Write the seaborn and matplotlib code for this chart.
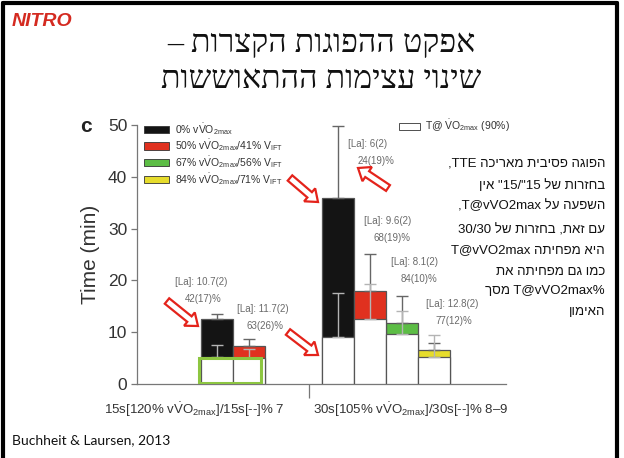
import matplotlib
matplotlib.use("Agg")
import matplotlib.pyplot as plt
import seaborn as sns
import pandas as pd
from matplotlib.patches import Rectangle, FancyArrow, Patch
from matplotlib.lines import Line2D
from matplotlib.transforms import IdentityTransform

sns.set_theme(style="ticks")
plt.rcParams["font.family"] = ["Liberation Sans", "DejaVu Sans"]
plt.rcParams["mathtext.fontset"] = "custom"
plt.rcParams["mathtext.rm"] = "Liberation Sans"
plt.rcParams["mathtext.it"] = "Liberation Sans:italic"
plt.rcParams["mathtext.bf"] = "Liberation Sans:bold"

# ---------------------------------------------------------------- data
intensities = ["0%", "50%", "67%", "84%"]
intensity_colors = ["#141414", "#e0311f", "#5cbd45", "#e6dc2c"]
legend_labels = [
    r"0% v$\dot{\mathrm{V}}$O$_{\mathrm{2max}}$",
    r"50% v$\dot{\mathrm{V}}$O$_{\mathrm{2max}}$/41% V$_{\mathrm{IFT}}$",
    r"67% v$\dot{\mathrm{V}}$O$_{\mathrm{2max}}$/56% V$_{\mathrm{IFT}}$",
    r"84% v$\dot{\mathrm{V}}$O$_{\mathrm{2max}}$/71% V$_{\mathrm{IFT}}$",
]
tvo2_label = r"T@ $\dot{\mathrm{V}}$O$_{\mathrm{2max}}$ (90%)"

bar_pos = [2.5, 3.5, 6.25, 7.25, 8.25, 9.25]
bar_intensity = ["0%", "50%", "0%", "50%", "67%", "84%"]
tte = [12.5, 7.4, 35.9, 18.0, 11.8, 6.6]          # time to exhaustion (min)
tte_sd = [1.1, 1.3, 14.0, 7.0, 5.2, 1.3]
t_vo2 = [5.2, 5.0, 9.0, 12.5, 9.7, 5.2]           # time at VO2max (min)
t_vo2_sd = [2.3, 1.7, 8.5, 6.9, 4.4, 4.3]
lactate = ["10.7(2)", "11.7(2)", "6(2)", "9.6(2)", "8.1(2)", "12.8(2)"]
pct_time = ["42(17)%", "63(26)%", "24(19)%", "68(19)%", "84(10)%", "77(12)%"]

protocol_labels = [
    r"15s[120% v$\dot{\mathrm{V}}$O$_{\mathrm{2max}}$]/15s[--]% 7",
    r"30s[105% v$\dot{\mathrm{V}}$O$_{\mathrm{2max}}$]/30s[--]% 8–9",
]
y_ticks = [0, 10, 20, 30, 40, 50]

title_lines = ["אפקט ההפוגות הקצרות –", "שינוי עצימות ההתאוששות"]
note_lines = [
    "הפוגה פסיבית מאריכה TTE,",
    'בחזרות של 15"/15" אין',
    "השפעה על T@vVO2max,",
    "עם זאת, בחזרות של 30/30",
    "היא מפחיתה T@vVO2max",
    "כמו גם מפחיתה את",
    "%T@vVO2max מסך",
    "האימון",
]
source = "Buchheit & Laursen, 2013"

# ---------------------------------------------------------------- layout
W, H = 624, 458
# (x, y) of the lactate / %time annotations, in data units
ann_xy = [(1.18, 19.7), (3.12, 14.5), (6.57, 46.4), (7.07, 31.5), (7.91, 23.6), (9.0, 15.5)]
ann_dy = 3.3
protocol_tick_pos = [1.78, 8.54]
separator_pos = 5.36


def visual(s):
    """Reorder a right-to-left paragraph into display (left-to-right) order."""
    def kind(c):
        if "\u0590" <= c <= "\u05ff":
            return "R"
        if c.isascii() and c.isdigit():
            return "EN"
        if c.isascii() and (c.isalpha() or c == "@"):
            return "L"
        if c in "/,.:":
            return "CS"
        return "N"

    kinds = [kind(c) for c in s]
    n = len(s)
    # digits following Latin text take its direction
    last = "R"
    for i, k in enumerate(kinds):
        if k in ("L", "R"):
            last = k
        elif k == "EN" and last == "L":
            kinds[i] = "L"
    # a single separator between two numbers joins them
    for i in range(1, n - 1):
        if kinds[i] == "CS" and kinds[i - 1] == kinds[i + 1] == "EN":
            kinds[i] = "EN"
    kinds = ["N" if k == "CS" else k for k in kinds]
    # neutrals: left-to-right only when enclosed by Latin text
    i = 0
    while i < n:
        if kinds[i] == "N":
            j = i
            while j < n and kinds[j] == "N":
                j += 1
            prev = kinds[i - 1] if i > 0 else "R"
            nxt = kinds[j] if j < n else "R"
            d = "L" if (prev == "L" and nxt == "L") else "R"
            for k in range(i, j):
                kinds[k] = d
            i = j
        else:
            i += 1
    runs = []
    for c, k in zip(s, kinds):
        d = "R" if k == "R" else "L"
        if runs and runs[-1][0] == d:
            runs[-1][1].append(c)
        else:
            runs.append([d, [c]])
    mirror = {"(": ")", ")": "(", "[": "]", "]": "["}
    out = []
    for d, chars in reversed(runs):
        if d == "R":
            out.append("".join(mirror.get(c, c) for c in reversed(chars)))
        else:
            out.append("".join(chars))
    return "".join(out)


def fx(px):
    return px / W


def fy(py):
    return 1 - py / H


fig = plt.figure(figsize=(W / 100, H / 100), dpi=100)
fig.patch.set_facecolor("white")

ax_left, ax_right, ax_top, ax_bottom = 137, 506, 125, 384
ax = fig.add_axes([fx(ax_left), fy(ax_bottom), (ax_right - ax_left) / W,
                   (ax_bottom - ax_top) / H])
ax.set_facecolor("none")

df = pd.DataFrame({"pos": bar_pos, "tte": tte, "tvo2": t_vo2,
                   "intensity": bar_intensity})
palette = dict(zip(intensities, intensity_colors))

sns.barplot(data=df, x="pos", y="tte", hue="intensity", palette=palette,
            hue_order=intensities, native_scale=True, width=1, dodge=False,
            saturation=1, edgecolor="#555555", linewidth=0.9,
            errorbar=None, legend=False, ax=ax, zorder=2)
sns.barplot(data=df, x="pos", y="tvo2", color="white", native_scale=True,
            width=1, saturation=1, edgecolor="#555555", linewidth=0.9,
            errorbar=None, ax=ax, zorder=3)

zeros = [0] * len(bar_pos)
ax.errorbar(bar_pos, tte, yerr=[zeros, tte_sd], fmt="none", ecolor="#666666",
            elinewidth=1.0, capsize=4, capthick=1.0, zorder=4)
ax.errorbar(bar_pos, t_vo2, yerr=[zeros, t_vo2_sd], fmt="none",
            ecolor="#b4b4b4", elinewidth=1.0, capsize=4, capthick=1.0,
            zorder=5)

# highlight around the 15s/15s time-at-VO2max bars
ax.add_patch(Rectangle((1.93, 0.1), 1.93, 4.9, fill=False, ec="#8dc641",
                       lw=2.2, zorder=6))

for (x, y), la, pt in zip(ann_xy, lactate, pct_time):
    ax.text(x, y, f"[La]: {la}", fontsize=7, color="#6a6a6a", va="center")
    ax.text(x + 0.3, y - ann_dy, pt, fontsize=7, color="#6a6a6a", va="center")

ax.set_xlim(0, 11.5)
ax.set_ylim(0, 50)
ax.set_yticks(y_ticks)
ax.set_xticks(protocol_tick_pos)
ax.set_xticklabels(protocol_labels)
ax.set_xticks([separator_pos], minor=True)
ax.tick_params(axis="x", which="major", length=0, pad=12, labelsize=9.5,
               labelcolor="#333333")
ax.tick_params(axis="x", which="minor", length=10, width=0.9, color="#777777")
ax.tick_params(axis="y", length=4, width=0.9, color="#777777", labelsize=12.5,
               labelcolor="#333333", pad=3)
ax.set_xlabel("")
ax.set_ylabel("Time (min)", fontsize=15, color="#333333")
ax.yaxis.set_label_coords(-0.10, 0.5)
for side in ("top", "right"):
    ax.spines[side].set_visible(False)
for side in ("left", "bottom"):
    ax.spines[side].set_color("#777777")
    ax.spines[side].set_linewidth(0.9)

handles = [Patch(fc=c, ec="#333333", lw=0.6) for c in intensity_colors]
leg = ax.legend(handles, legend_labels, loc="upper left",
                bbox_to_anchor=(fx(144), fy(121)), bbox_transform=fig.transFigure,
                frameon=False, fontsize=7.5, borderpad=0, borderaxespad=0,
                handlelength=2.4, handleheight=0.7, handletextpad=0.6,
                labelspacing=0.07, labelcolor="#333333")
ax.add_artist(leg)
ax.legend([Patch(fc="white", ec="#333333", lw=0.6)], [tvo2_label],
          loc="upper left", bbox_to_anchor=(fx(399), fy(118)),
          bbox_transform=fig.transFigure, frameon=False, fontsize=7.5,
          borderpad=0, borderaxespad=0, handlelength=2.0, handleheight=0.7,
          handletextpad=0.5, labelcolor="#333333")

fig.text(fx(80), fy(126), "c", fontsize=15, fontweight="bold", color="#222222",
         va="center")

# slide furniture
for text, y in zip(title_lines, [45, 80]):
    fig.text(fx(321), fy(y), visual(text), fontsize=23, ha="center",
             va="center", family=["Liberation Serif", "DejaVu Serif"],
             color="#111111")

for text, y in zip(note_lines, [163, 186, 206, 230, 250, 272, 291, 312]):
    fig.text(fx(605), fy(y), visual(text), fontsize=9.5, ha="right",
             va="center", color="#111111")

fig.text(fx(12), fy(440), source, fontsize=10, va="center", family=["Lato"],
         color="#111111")
fig.text(fx(12), fy(21), "NITRO", fontsize=14, fontweight="bold",
         fontstyle="italic", color="#d42a20", va="center")

arrows = [((167, 301), (198, 326)), ((288, 332), (318, 355)),
          ((290, 178), (318, 202)), ((388, 188), (358, 168))]
for (x0, y0), (x1, y1) in arrows:
    fig.add_artist(FancyArrow(x0, H - y0, x1 - x0, y0 - y1, width=7,
                              head_width=17, head_length=11,
                              length_includes_head=True, fc="white",
                              ec="#e4231b", lw=1.6,
                              transform=IdentityTransform()))

frame = dict(color="black", lw=3, transform=fig.transFigure)
fig.add_artist(Line2D([fx(3), fx(3)], [0, fy(3)], **frame))
fig.add_artist(Line2D([fx(3), fx(617)], [fy(3), fy(3)], **frame))
fig.add_artist(Line2D([fx(617), fx(617)], [0, fy(3)], **frame))

fig.savefig("out.png", dpi=100, facecolor="white")
